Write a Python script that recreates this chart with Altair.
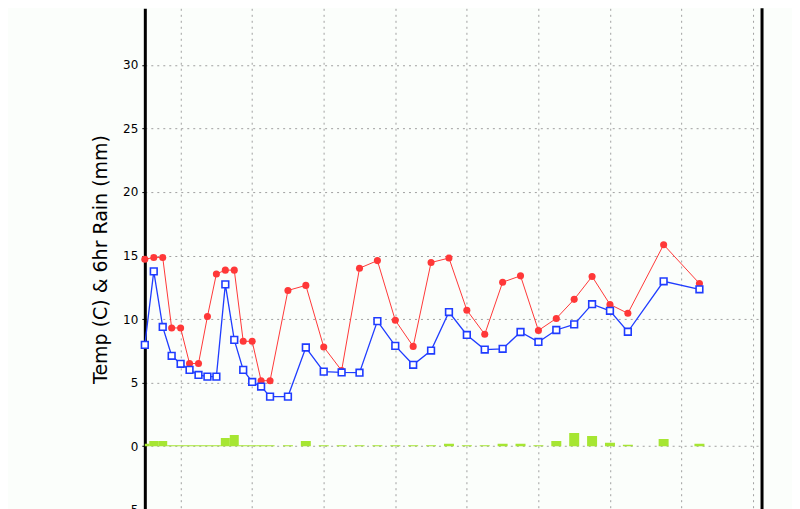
import altair as alt
import pandas as pd

# forecast hour of each sample
hours = [0, 3, 6, 9, 12, 15, 18, 21, 24, 27, 30, 33, 36, 39, 42,
         48, 54, 60, 66, 72, 78, 84, 90, 96, 102, 108, 114, 120, 126, 132,
         138, 144, 150, 156, 162, 174, 186]
# temperature (C) - red
temp = [14.7, 14.85, 14.85, 9.3, 9.3, 6.5, 6.5, 10.2, 13.55, 13.85, 13.85,
        8.25, 8.25, 5.15, 5.15,
        12.25, 12.65, 7.8, 5.95, 14.0, 14.6, 9.9, 7.85, 14.45, 14.8, 10.7,
        8.8, 12.9, 13.4, 9.1, 10.05, 11.55, 13.35, 11.15, 10.45, 15.85, 12.8]
# dew point (C) - blue
dewp = [7.97, 13.75, 9.38, 7.11, 6.48, 6.0, 5.6, 5.47, 5.47, 12.73, 8.36,
        6.0, 5.05, 4.69, 3.9,
        3.9, 7.76, 5.86, 5.8, 5.78, 9.84, 7.89, 6.4, 7.52, 10.55, 8.75,
        7.6, 7.66, 8.98, 8.2, 9.14, 9.58, 11.17, 10.65, 9.0, 12.97, 12.34]
# 6hr rain (mm) - green bars
rain = [0.18, 0.4, 0.4, 0.08, 0.08, 0.08, 0.08, 0.08, 0.08, 0.65, 0.88,
        0.08, 0.08, 0.08, 0.08,
        0.08, 0.4, 0.08, 0.08, 0.08, 0.08, 0.08, 0.08, 0.08, 0.18, 0.08,
        0.08, 0.18, 0.18, 0.08, 0.41, 1.04, 0.8, 0.26, 0.1, 0.57, 0.18]

grid_hours = [12, 36, 60, 84, 108, 132, 156, 180, 204]
y_ticks = [-5, 0, 5, 10, 15, 20, 25, 30]
x_end = 207.0

df = pd.DataFrame({"hour": hours, "temp": temp, "dewp": dewp, "rain": rain})

RED = "#ff3838"
BLUE = "#1f3cff"
GREEN = "#a6e632"
GRID = "#a0a0a0"

x_scale = alt.Scale(domain=[0, x_end], nice=False, zero=False, padding=0)
y_scale = alt.Scale(domain=[-5, 34.45], nice=False, zero=False, padding=0)

x_axis = alt.Axis(values=grid_hours, grid=True, labels=False, ticks=False,
                  domain=False, title=None, gridDash=[2, 4], gridColor=GRID,
                  gridWidth=1)
y_axis = alt.Axis(values=y_ticks, grid=True, gridDash=[2, 4], gridColor=GRID,
                  gridWidth=1, domainColor="black", domainWidth=3,
                  tickColor="black", tickSize=3, labelPadding=4,
                  labelFont="DejaVu Sans", labelFontSize=12, labelColor="black",
                  titleFont="DejaVu Sans", titleFontSize=19,
                  titleFontWeight="normal", titleColor="black", titlePadding=10)
TITLE = "Temp (C) & 6hr Rain (mm)"

def X(field="hour"):
    return alt.X(f"{field}:Q", scale=x_scale, axis=x_axis)

def Y(field):
    return alt.Y(f"{field}:Q", scale=y_scale, axis=y_axis, title=TITLE)

base = alt.Chart(df)

bars3 = base.transform_filter("datum.hour <= 42").mark_bar(
    color=GREEN, size=9, clip=True).encode(x=X(), y=Y("rain"), y2=alt.datum(0))
bars6 = base.transform_filter("datum.hour > 42").mark_bar(
    color=GREEN, size=10, clip=True).encode(x=X(), y=Y("rain"), y2=alt.datum(0))

red_line = base.mark_line(color=RED, strokeWidth=1).encode(x=X(), y=Y("temp"))
red_pts = base.mark_point(shape="circle", filled=True, size=50, color=RED,
                          opacity=1).encode(x=X(), y=Y("temp"))
blue_line = base.mark_line(color=BLUE, strokeWidth=1.3).encode(x=X(), y=Y("dewp"))
blue_pts = base.mark_point(shape="square", filled=False, fill="white",
                           fillOpacity=1, stroke=BLUE, strokeWidth=1.6,
                           size=45, opacity=1).encode(x=X(), y=Y("dewp"))

right_border = base.transform_aggregate(n="count()").transform_calculate(
    edge=str(x_end)).mark_rule(color="black", strokeWidth=3).encode(x=X("edge"))

chart = alt.layer(bars3, bars6, red_line, red_pts, blue_line, blue_pts,
                  right_border).properties(
    width=618, height=502,
    autosize=alt.AutoSizeParams(type="none"),
    padding={"left": 137, "top": 0, "right": 30, "bottom": 10},
    background="#fbfefb",
).configure_view(stroke=None)

chart.save("out.html", embed_options={"renderer": "svg", "actions": False})
